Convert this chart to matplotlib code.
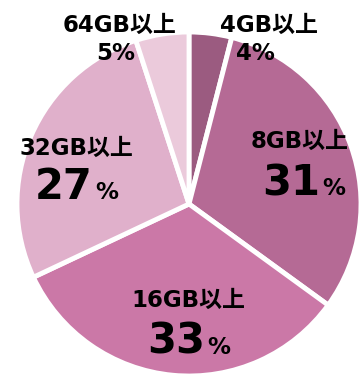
import matplotlib.pyplot as plt

plt.rcParams['font.family'] = ['DejaVu Sans', 'Noto Sans CJK JP']

labels = ["4GB以上", "8GB以上", "16GB以上", "32GB以上", "64GB以上"]
shares = [4, 31, 33, 27, 5]
colors = ["#9b5b80", "#b56a95", "#cb78a7", "#e0b0cb", "#ebcadb"]

# pie centre and radius in pixels
CX, CY, R = 189, 204, 172
W, H = 360, 378


def px(x, y):
    return (x - CX) / R, (CY - y) / R


fig = plt.figure(figsize=(W / 100, H / 100), dpi=100)
ax = fig.add_axes([0, 0, 1, 1])
ax.pie(shares, colors=colors, startangle=90, counterclock=False,
       radius=1, wedgeprops=dict(edgecolor="white", linewidth=3.5))
ax.set_xlim(-CX / R, (W - CX) / R)
ax.set_ylim(-(H - CY) / R, CY / R)
ax.set_aspect("equal")
ax.axis("off")

lab_fs = 16.5
big_fs = 30

# small labels above the pie
for i, (lx, ly, vx, vy) in {0: (269, 32, 255, 60), 4: (120, 32, 116, 60)}.items():
    ax.text(*px(lx, ly), labels[i], ha="center", va="baseline",
            fontsize=lab_fs, fontweight="bold")
    ax.text(*px(vx, vy), f"{shares[i]}%", ha="center", va="baseline",
            fontsize=lab_fs, fontweight="bold")

# big labels inside the wedges: (label centre, label baseline, split x, value baseline)
for i, (lx, ly, sx, vy) in {1: (300, 148, 320, 195),
                             2: (188, 307, 205, 354),
                             3: (76, 155, 93, 199)}.items():
    ax.text(*px(lx, ly), labels[i], ha="center", va="baseline",
            fontsize=lab_fs, fontweight="bold")
    ax.text(*px(sx, vy), str(shares[i]), ha="right", va="baseline",
            fontsize=big_fs, fontweight="bold")
    ax.text(*px(sx + 2, vy), "%", ha="left", va="baseline",
            fontsize=lab_fs, fontweight="bold")

fig.savefig("out.png", dpi=100)
